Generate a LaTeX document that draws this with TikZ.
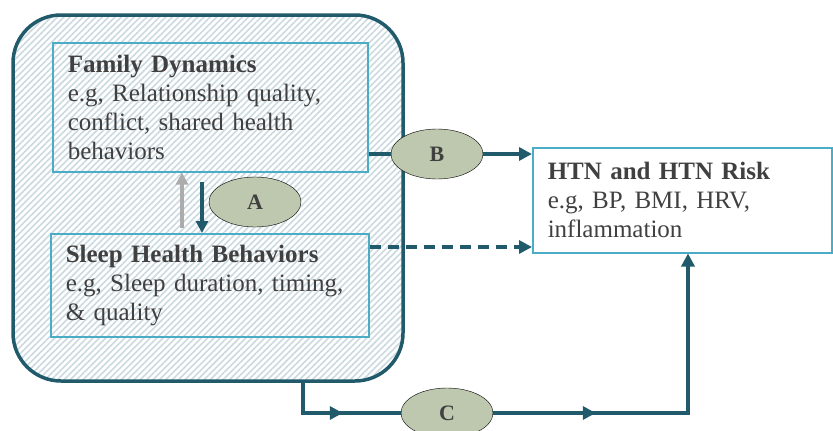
\documentclass[tikz,border=0pt]{standalone}
\usepackage{fontspec}
\setmainfont{Liberation Serif}
\usetikzlibrary{shapes.geometric,arrows.meta,patterns.meta,decorations.markings}
\definecolor{tealdk}{HTML}{215B6B}
\definecolor{aqua}{HTML}{4BACC6}
\definecolor{hatch}{HTML}{CBD9E0}
\definecolor{olive}{HTML}{BEC8AF}
\definecolor{txt}{HTML}{404040}

\begin{document}
\begin{tikzpicture}[x=1pt,y=-1pt,>={Triangle[length=13pt,width=13pt]},
  font=\fontsize{25}{29}\selectfont,text=txt,
  ctx/.style={draw=tealdk,line width=3.5pt,rounded corners=48pt,pattern={Lines[angle=45,distance=4.5pt,line width=1.6pt]},pattern color=hatch,minimum width=390pt,minimum height=366pt},
  box/.style={draw=aqua,line width=1.5pt,align=left,inner xsep=15pt,inner ysep=3pt,anchor=north west},
  oval/.style={ellipse,draw=black,fill=olive,thin,minimum width=92pt,minimum height=50pt,inner sep=0pt,font=\fontsize{22}{26}\selectfont\bfseries},
  conn/.style={draw=tealdk,line width=3.5pt}]
  \useasboundingbox (0,0) rectangle (833,431);
  % context box with the two family-level boxes
  \node[ctx] (ctx) at (208,198) {};
  \node[box,text width=285pt,minimum height=129pt] (fam) at (52,42) {\textbf{Family Dynamics}\\e.g, Relationship quality,\\conflict, shared health\\behaviors};
  \node[box,text width=288pt,minimum height=103pt] (slp) at (50,233) {\textbf{Sleep Health Behaviors}\\e.g, Sleep duration, timing,\\\& quality};
  \node[box,text width=269pt,minimum height=105pt] (htn) at (532,147) {\textbf{HTN and HTN Risk}\\e.g, BP, BMI, HRV,\\inflammation};
  % path A
  \coordinate (up) at (182,0);
  \coordinate (dn) at (202,0);
  \draw[->,line width=3.5pt,draw=gray!65,>={Triangle[length=12pt,width=12pt]},shorten <=5pt] (slp.north -| up) -- (fam.south -| up);
  \draw[->,conn,>={Triangle[length=12pt,width=12pt]},shorten <=9pt] (fam.south -| dn) -- (slp.north -| dn);
  \node[oval] (A) at (255,202) {A};
  % path B and dashed link
  \node[oval] (B) at (437,154) {B};
  \draw[conn] (fam.east |- B) -- (B);
  \draw[conn,->] (B) -- (htn.west |- B);
  \coordinate (dsh) at (0,247);
  \draw[conn,->,dash pattern=on 11pt off 7pt] (slp.east |- dsh) -- (htn.west |- dsh);
  % path C
  \coordinate (cl) at (303,413);
  \coordinate (cr) at (688,413);
  \draw[conn,->,postaction={decorate},decoration={markings,mark=at position 71pt with {\arrow{>}},mark=at position 324pt with {\arrow{>}}}]
    (ctx.south -| cl) -- (cl) -- (cr) -- (htn.south -| cr);
  \node[oval] (C) at (447,413) {C};
\end{tikzpicture}
\end{document}
